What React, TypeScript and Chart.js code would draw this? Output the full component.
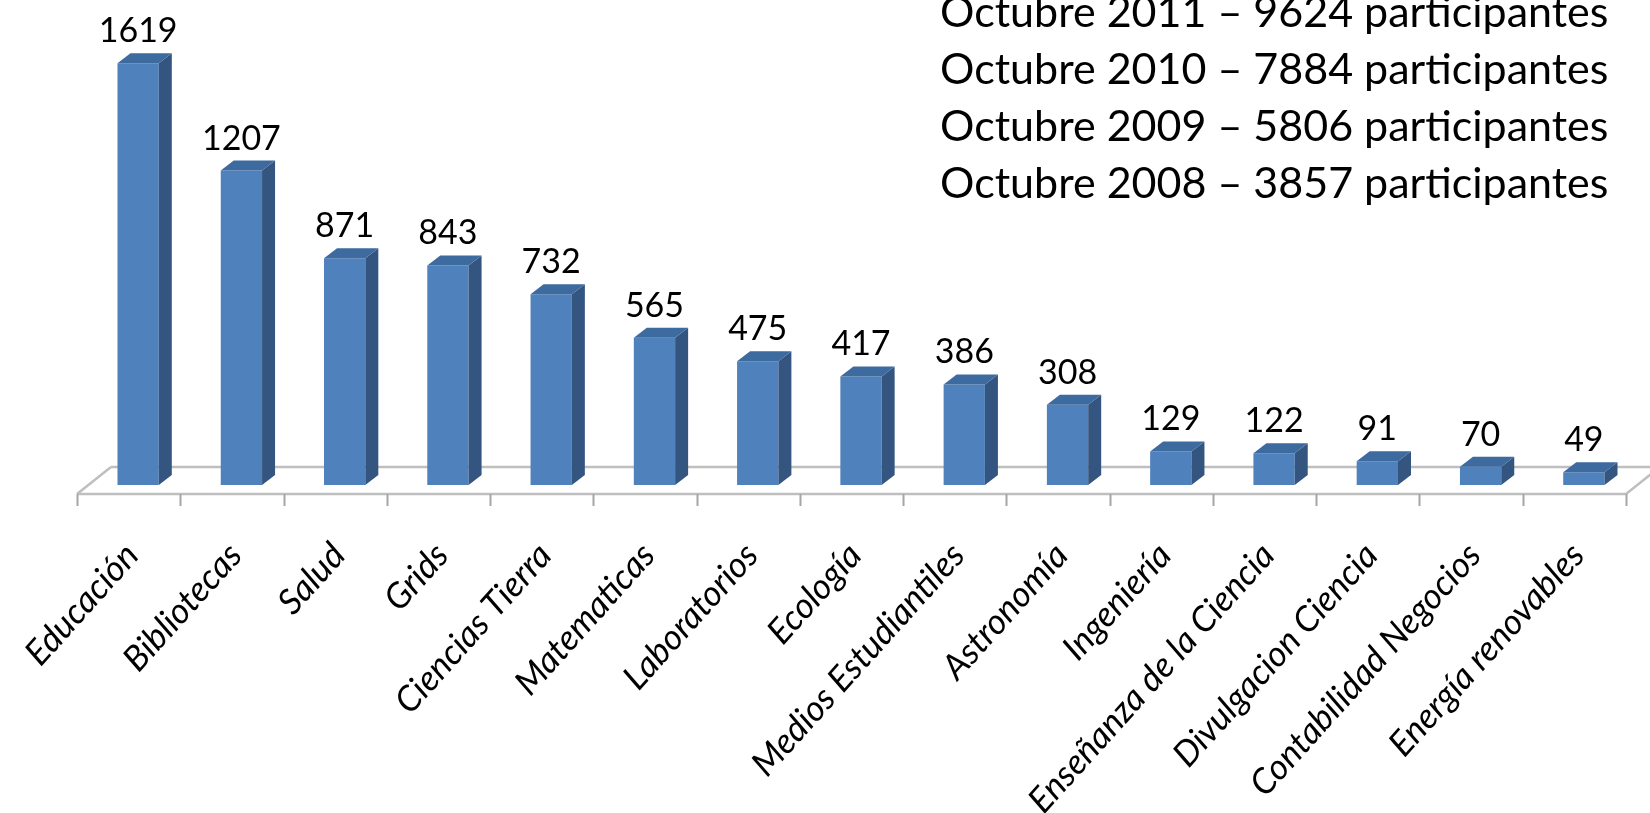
import React, { useEffect, useRef } from 'react';
import { Chart, registerables } from 'chart.js';

Chart.register(...registerables);

const categories = [
  'Educación',
  'Bibliotecas',
  'Salud',
  'Grids',
  'Ciencias Tierra',
  'Matematicas',
  'Laboratorios',
  'Ecología',
  'Medios Estudiantiles',
  'Astronomía',
  'Ingeniería',
  'Enseñanza de la Ciencia',
  'Divulgacion Ciencia',
  'Contabilidad Negocios',
  'Energía renovables',
];

const participantes = [1619, 1207, 871, 843, 732, 565, 475, 417, 386, 308, 129, 122, 91, 70, 49];

const notes = [
  'Octubre 2011 – 9624 participantes',
  'Octubre 2010 – 7884 participantes',
  'Octubre 2009 – 5806 participantes',
  'Octubre 2008 – 3857 participantes',
];

const FONT = 'Lato, "Open Sans", sans-serif';
const FRONT = '#4F81BD';
const SIDE = '#34557F';
const TOP = '#3D6A9F';
const DEPTH_X = 13;
const DEPTH_Y = 10;
const SHIFT = 9.5;

const bar3dPlugin = {
  id: 'bar3d',
  beforeDatasetsDraw(chart: any) {
    const { ctx, scales } = chart;
    const xs = scales.x;
    const ys = scales.y;
    const n = chart.data.labels.length;
    const w = (xs.right - xs.left) / n;
    const base = ys.getPixelForValue(0);
    const x0 = xs.left - SHIFT;
    const x1 = xs.right - SHIFT;
    const fy = base + 9;
    const by = base - 18;
    const fdx = 34;
    ctx.save();
    ctx.strokeStyle = '#BFBFBF';
    ctx.lineWidth = 2.5;
    ctx.beginPath();
    ctx.moveTo(x0 + fdx, by);
    ctx.lineTo(x1 + fdx, by);
    ctx.moveTo(x0, fy);
    ctx.lineTo(x0 + fdx, by);
    ctx.moveTo(x1, fy);
    ctx.lineTo(x1 + fdx, by);
    ctx.moveTo(x0, fy);
    ctx.lineTo(x1, fy);
    ctx.stroke();
    ctx.lineWidth = 2;
    ctx.strokeStyle = '#A6A6A6';
    ctx.beginPath();
    for (let i = 0; i <= n; i++) {
      const tx = Math.round(x0 + i * w) + 0.5;
      ctx.moveTo(tx, fy);
      ctx.lineTo(tx, fy + 12);
    }
    ctx.stroke();
    ctx.restore();
  },
  afterDatasetsDraw(chart: any) {
    const { ctx } = chart;
    const meta = chart.getDatasetMeta(0);
    const values = chart.data.datasets[0].data;
    ctx.save();
    meta.data.forEach((bar: any, i: number) => {
      const { x, y, base, width } = bar.getProps(['x', 'y', 'base', 'width'], true);
      const l = x - width / 2;
      const r = x + width / 2;
      ctx.fillStyle = SIDE;
      ctx.beginPath();
      ctx.moveTo(r, y);
      ctx.lineTo(r + DEPTH_X, y - DEPTH_Y);
      ctx.lineTo(r + DEPTH_X, base - DEPTH_Y);
      ctx.lineTo(r, base);
      ctx.closePath();
      ctx.fill();
      ctx.fillStyle = TOP;
      ctx.beginPath();
      ctx.moveTo(l, y);
      ctx.lineTo(l + DEPTH_X, y - DEPTH_Y);
      ctx.lineTo(r + DEPTH_X, y - DEPTH_Y);
      ctx.lineTo(r, y);
      ctx.closePath();
      ctx.fill();
      ctx.fillStyle = '#000';
      ctx.font = `34px ${FONT}`;
      ctx.textAlign = 'center';
      ctx.textBaseline = 'alphabetic';
      ctx.fillText(String(values[i]), x, y - DEPTH_Y - 11);
    });
    ctx.font = `43px ${FONT}`;
    ctx.textAlign = 'left';
    ctx.fillStyle = '#000';
    notes.forEach((t, i) => {
      ctx.fillText(t, 940, 27 + i * 57);
    });
    ctx.restore();
  },
};

export default function App() {
  const ref = useRef<HTMLCanvasElement | null>(null);
  useEffect(() => {
    const canvas = ref.current;
    if (!canvas) return;
    const chart = new Chart(canvas, {
      type: 'bar',
      data: {
        labels: categories,
        datasets: [
          {
            label: 'Participantes',
            data: participantes,
            backgroundColor: FRONT,
            borderWidth: 0,
            barPercentage: 0.4,
            categoryPercentage: 1,
          },
        ],
      },
      options: {
        responsive: false,
        animation: false,
        devicePixelRatio: 1,
        layout: { padding: { left: 86.5, right: 14.5, top: 0, bottom: 0 } },
        plugins: {
          legend: { display: false },
          tooltip: { enabled: false },
          title: { display: false },
        },
        scales: {
          x: {
            grid: { display: false },
            border: { display: false },
            ticks: {
              autoSkip: false,
              minRotation: 48,
              maxRotation: 48,
              padding: 42,
              labelOffset: -6,
              color: '#000',
              font: { family: FONT, size: 35, style: 'italic' },
            },
            afterFit: (s: any) => {
              s.height = 328;
              s.paddingLeft = 0;
              s.paddingRight = 0;
            },
          },
          y: {
            display: false,
            min: 0,
            max: 1862,
          },
        },
      },
      plugins: [bar3dPlugin],
    });
    return () => chart.destroy();
  }, []);
  return (
    <div style={{ position: 'fixed', left: 0, top: 0, width: 1650, height: 813, background: '#fff' }}>
      <canvas ref={ref} width={1650} height={813} />
    </div>
  );
}
